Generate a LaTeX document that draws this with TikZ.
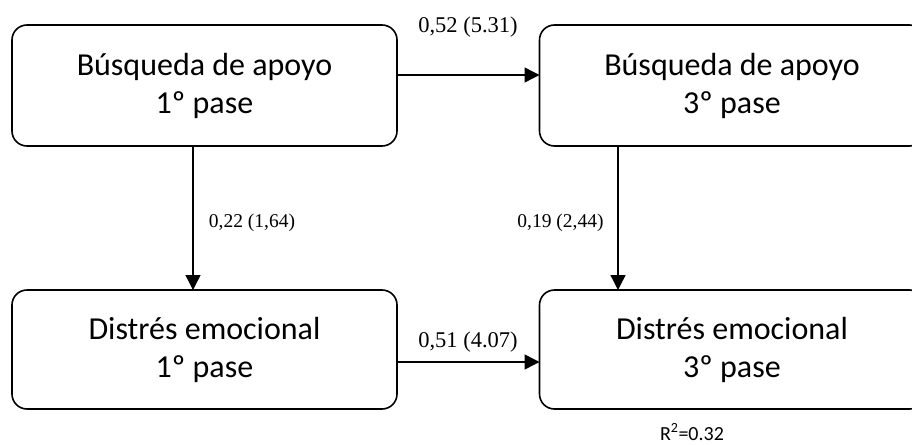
\documentclass[tikz,border=0pt]{standalone}
\usepackage{fontspec}
\setmainfont{Carlito}
\newfontfamily\numfont{Liberation Serif}
\usetikzlibrary{arrows.meta}
\begin{document}
\begin{tikzpicture}[x=1pt,y=-1pt,
  varbox/.style={draw, line width=1.6pt, rounded corners=15pt, minimum width=385pt,
    inner sep=0pt, outer sep=0pt, align=center, font=\fontsize{32}{38}\selectfont},
  arr/.style={line width=1.4pt, -{Triangle[length=15pt,width=15pt]}},
  hlab/.style={anchor=base, font=\numfont\fontsize{22.5}{26}\selectfont},
  vlab/.style={anchor=base, font=\numfont\fontsize{19.5}{23}\selectfont}]
\useasboundingbox (0,0) rectangle (912,444);
\begin{scope}
\clip (0,0) rectangle (912,444);
\node[varbox, minimum height=121pt] (tl) at (204.5,85.5) {Búsqueda de apoyo\\1º pase};
\node[varbox, minimum height=121pt] (tr) at (732,85.5) {Búsqueda de apoyo\\3º pase};
\node[varbox, minimum height=119pt] (bl) at (204.5,349.5) {Distrés emocional\\1º pase};
\node[varbox, minimum height=119pt] (br) at (732,349.5) {Distrés emocional\\3º pase};
\end{scope}
\draw[arr] ([yshift=10.5pt]tl.east) -- ([yshift=10.5pt]tr.west);
\draw[arr] ([yshift=-12.5pt]bl.east) -- ([yshift=-12.5pt]br.west);
\draw[arr] ([xshift=-11.5pt]tl.south) -- ([xshift=-11.5pt]bl.north);
\draw[arr] ([xshift=-114pt]tr.south) -- ([xshift=-114pt]br.north);
\node[hlab] (l1) at (468,33) {0,52 (5.31)};
\node[hlab] (l2) at (468,347) {0,51 (4.07)};
\node[vlab] (l3) at (252,227) {0,22 (1,64)};
\node[vlab] (l4) at (560.5,227) {0,19 (2,44)};
\node[anchor=base, inner sep=0pt, font=\fontsize{20}{24}\selectfont] (r2) at (692,440) {R\textsuperscript{2}=0.32};
\end{tikzpicture}
\end{document}
